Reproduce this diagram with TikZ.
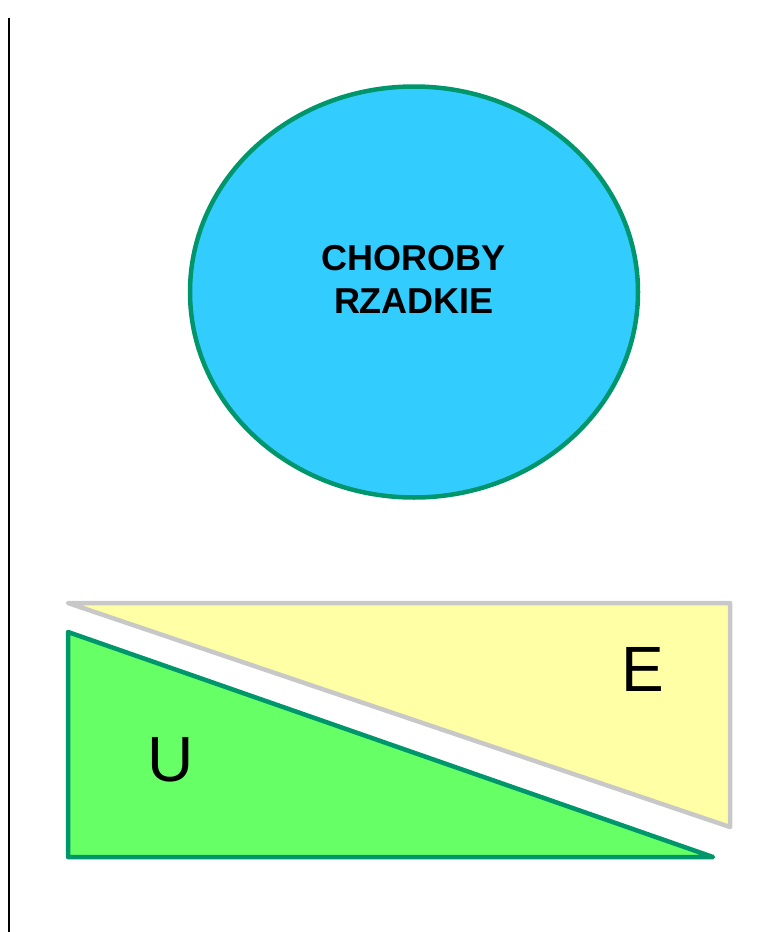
\documentclass[tikz,border=0pt]{standalone}
\usepackage{fontspec}
\setmainfont{Liberation Sans}
\definecolor{tealline}{RGB}{0,150,108}
\definecolor{skyfill}{RGB}{51,204,255}
\definecolor{paleyellow}{RGB}{255,255,165}
\definecolor{limefill}{RGB}{102,255,102}
\definecolor{lightgrayline}{RGB}{200,200,200}
\tikzset{
  shapeline/.style={line width=4.5pt, line join=round},
  bigletter/.style={font=\fontsize{64}{64}\selectfont, inner sep=0pt, anchor=base}
}
\begin{document}
\begin{tikzpicture}[x=1pt, y=-1pt]
  \useasboundingbox (0,0) rectangle (768,932);
  % left margin rule
  \draw[line width=2pt] (9,18) coordinate (ruletop) -- (9,932) coordinate (rulebot);
  % central ellipse
  \draw[shapeline, draw=tealline, fill=skyfill] (414,292) ellipse [x radius=224, y radius=205.5];
  % two-line label; the base anchor sits on the last line
  \node[font=\bfseries\fontsize{36}{43}\selectfont, align=center, inner sep=0pt, anchor=base] (label) at (414,313) {CHOROBY\\RZADKIE};
  % upper (yellow) triangle
  \draw[shapeline, draw=lightgrayline, fill=paleyellow] (68,603) -- (730,603) -- (730,827) -- cycle;
  % lower (green) triangle
  \draw[shapeline, draw=tealline, fill=limefill] (68,632) -- (68,857) -- (713,857) -- cycle;
  \node[bigletter] (E) at (643,691) {E};
  \node[bigletter] (U) at (171,781) {U};
\end{tikzpicture}
\end{document}
